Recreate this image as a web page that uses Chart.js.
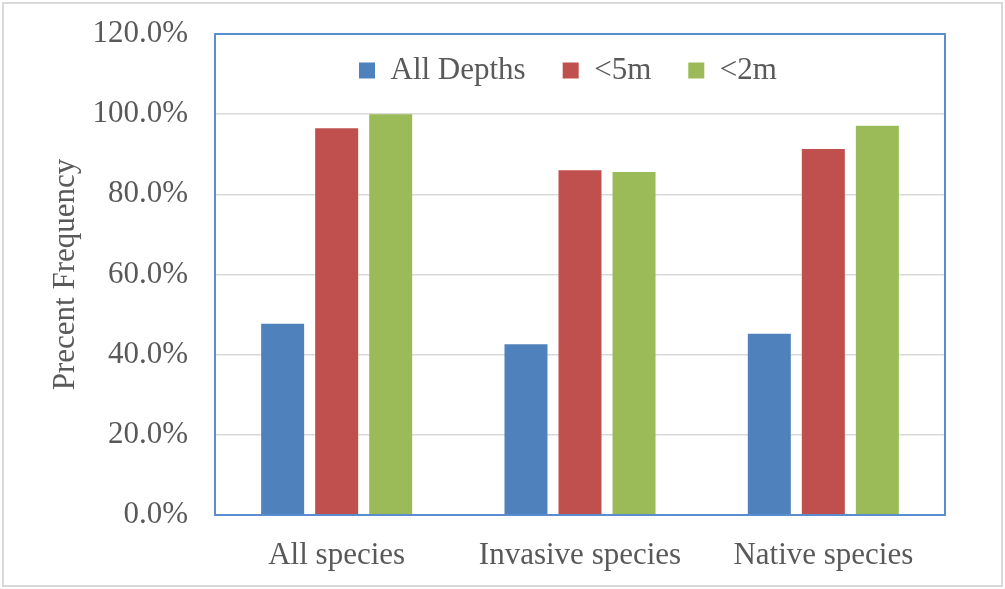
<!DOCTYPE html>
<html>
<head>
<meta charset="utf-8">
<script src="https://cdn.jsdelivr.net/npm/chart.js@4/dist/chart.umd.min.js"></script>
<style>
  html, body { margin: 0; padding: 0; background: #fff; }
  #wrap { width: 1005px; height: 589px; position: relative; }
</style>
</head>
<body>
<div id="wrap"><canvas id="freqChart"></canvas></div>
<script>
const categories = ['All species', 'Invasive species', 'Native species'];
const allDepths = [47.7, 42.6, 45.2];
const under5m = [96.5, 86.0, 91.3];
const under2m = [100.0, 85.6, 97.1];
const yTicks = [0, 20, 40, 60, 80, 100, 120];

const FONT = "'Liberation Serif', 'Times New Roman', serif";
const TEXT = '#595959';

// frame lines: outer gray box and blue plot-area box
const frames = {
    id: 'frames',
    afterDraw(chart) {
        const c = chart.ctx, a = chart.chartArea;
        c.save();
        c.strokeStyle = '#d9d9d9';
        c.lineWidth = 2;
        c.strokeRect(3, 3, chart.width - 6, chart.height - 6);
        c.strokeStyle = '#5b8ccf';
        c.lineWidth = 2;
        c.strokeRect(a.left, a.top, a.right - a.left, a.bottom - a.top);
        c.restore();
    }
};

// legend sits inside the plot as one row, like the original
const legendInside = {
    id: 'legendInside',
    afterInit(chart) {
        if (chart.legend) chart.legend.isHorizontal = () => true;
    },
    afterLayout(chart) {
        const lg = chart.legend, a = chart.chartArea;
        if (lg) {
            lg.top = a.top - 16;
            lg.left = a.left + 107;
            lg.right = a.right;
        }
    }
};

new Chart(document.getElementById('freqChart').getContext('2d'), {
    type: 'bar',
    data: {
        labels: categories,
        datasets: [
            { label: 'All Depths', data: allDepths, backgroundColor: '#4f81bd' },
            { label: '<5m', data: under5m, backgroundColor: '#c0504d' },
            { label: '<2m', data: under2m, backgroundColor: '#9bbb59' }
        ]
    },
    options: {
        responsive: true,
        maintainAspectRatio: false,
        animation: false,
        datasets: {
            bar: { categoryPercentage: 0.666, barPercentage: 0.796 }
        },
        layout: { padding: { left: 0, top: 34, right: 60, bottom: 0 } },
        plugins: {
            legend: {
                position: 'chartArea',
                align: 'start',
                labels: {
                    color: TEXT,
                    font: { family: FONT, size: 31 },
                    boxWidth: 16,
                    boxHeight: 16,
                    padding: 37
                }
            },
            tooltip: { enabled: false }
        },
        scales: {
            x: {
                grid: { display: false },
                border: { display: false },
                ticks: {
                    color: TEXT,
                    font: { family: FONT, size: 31 },
                    padding: 14,
                    maxRotation: 0
                },
                afterFit(scale) { scale.height = 74; }
            },
            y: {
                min: 0,
                max: 120,
                afterBuildTicks(scale) { scale.ticks = yTicks.map(v => ({ value: v })); },
                grid: { color: '#d9d9d9', lineWidth: 1.5, drawTicks: false },
                border: { display: false },
                ticks: {
                    color: TEXT,
                    font: { family: FONT, size: 31 },
                    padding: 27,
                    callback: v => v.toFixed(1) + '%'
                },
                title: {
                    display: true,
                    text: 'Precent Frequency',
                    color: TEXT,
                    font: { family: FONT, size: 31 },
                    padding: { top: 47, bottom: 0 }
                },
                afterFit(scale) {
                    scale.width = 215;
                    scale.paddingTop = 0;
                    scale.paddingBottom = 0;
                }
            }
        }
    },
    plugins: [frames, legendInside]
});
</script>
</body>
</html>
